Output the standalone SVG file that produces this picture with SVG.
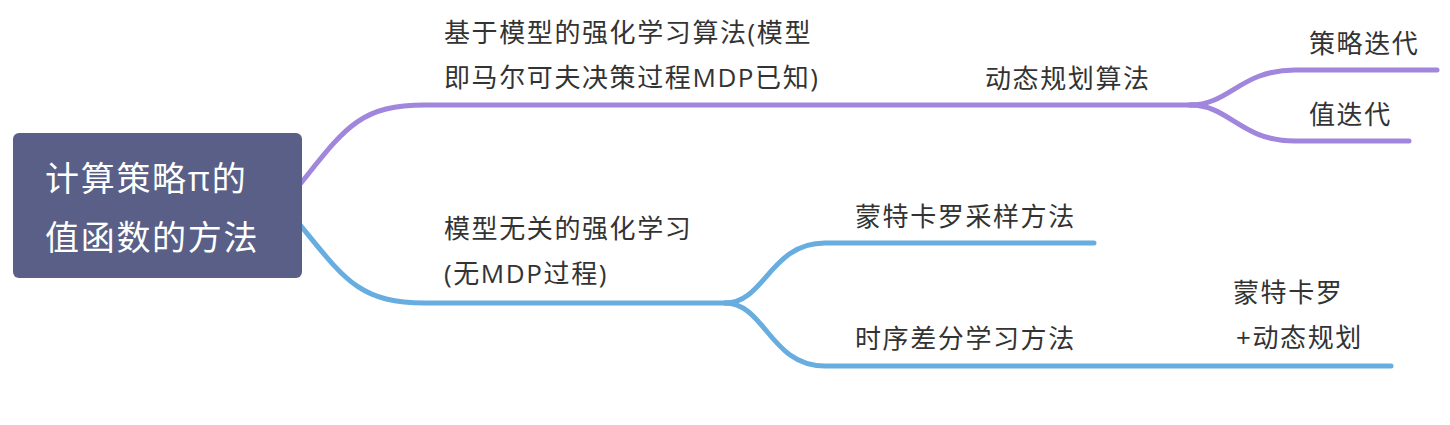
<svg xmlns="http://www.w3.org/2000/svg" width="1450" height="425" viewBox="0 0 1450 425">
<style>
.t{font-family:"Open Sans","Noto Sans CJK SC",sans-serif;font-size:26px;letter-spacing:1.6px;fill:#333333;}
.r{font-family:"Open Sans","Noto Sans CJK SC",sans-serif;font-size:34px;letter-spacing:1.7px;fill:#ffffff;}
.c{fill:none;stroke-width:5;stroke-linecap:round;stroke-linejoin:round;}
.p{stroke:#a086dc;}
.b{stroke:#68ade0;}
</style>
<rect width="1450" height="425" fill="#ffffff"/>
<g id="connectors">
<path class="c p" d="M301,183 C345,128 360,105 425,105 L1195,105"/>
<path class="c p" d="M1190,105 C1230,105 1240,70 1295,70 L1437,70"/>
<path class="c p" d="M1190,105 C1230,105 1240,141 1295,141 L1409,141"/>
<path class="c b" d="M301,226 C345,280 360,303 425,303 L730,303"/>
<path class="c b" d="M725,303 C765,303 770,243 825,243 L1094,243"/>
<path class="c b" d="M725,303 C765,303 770,366 825,366 L1391,366"/>
</g>
<g id="root">
<rect x="13" y="133" width="289" height="145" rx="6" fill="#595f87"/>
<text class="r" x="45" y="191">计算策略π的</text>
<text class="r" x="45" y="250">值函数的方法</text>
</g>
<g id="model-based">
<text class="t" x="444" y="42">基于模型的强化学习算法(模型</text>
<text class="t" x="444" y="87">即马尔可夫决策过程MDP已知)</text>
</g>
<g id="dp">
<text class="t" x="985" y="88">动态规划算法</text>
</g>
<g id="policy-iter">
<text class="t" x="1309" y="53">策略迭代</text>
</g>
<g id="value-iter">
<text class="t" x="1309" y="124">值迭代</text>
</g>
<g id="model-free">
<text class="t" x="444" y="238">模型无关的强化学习</text>
<text class="t" x="444" y="283">(无MDP过程)</text>
</g>
<g id="mc">
<text class="t" x="855" y="226">蒙特卡罗采样方法</text>
</g>
<g id="td">
<text class="t" x="855" y="348">时序差分学习方法</text>
</g>
<g id="mc-dp">
<text class="t" x="1233" y="302">蒙特卡罗</text>
<text class="t" x="1236" y="347">+动态规划</text>
</g>
</svg>
